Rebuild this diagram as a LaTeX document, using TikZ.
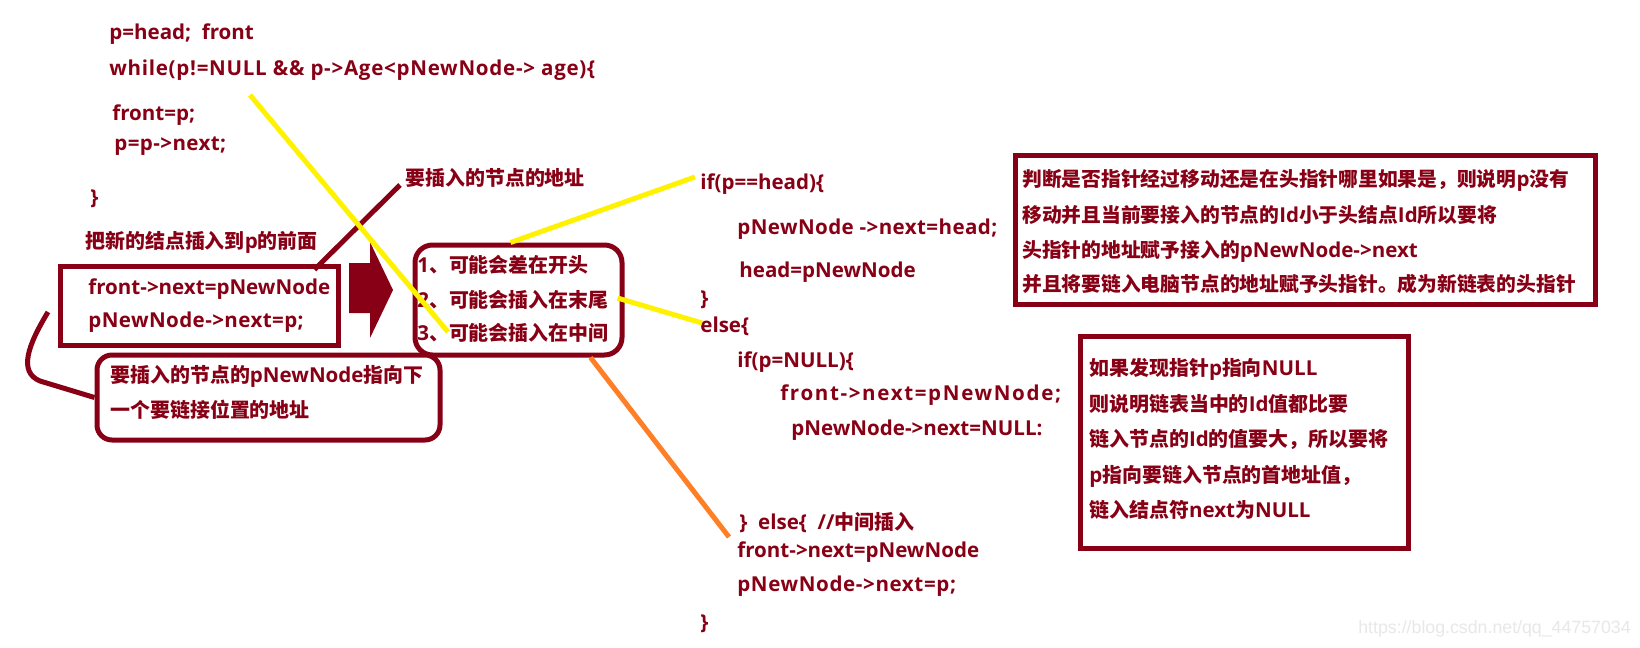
\documentclass[tikz,border=0pt]{standalone}
\usepackage{fontspec}
\setmainfont{Open Sans}
\newfontfamily\cjk{Noto Sans CJK SC Bold}
\newfontfamily\wmfont{Liberation Sans}
\newcommand\zhsize{11.35}
\newcommand\zh[1]{{\cjk\fontsize{\zhsize}{14}\selectfont #1}}
\newcommand\codefont{\fontsize{11.7}{14}\selectfont\bfseries}
\definecolor{pnred}{RGB}{136,0,21}
\definecolor{pnyellow}{RGB}{255,242,0}
\definecolor{pnorange}{RGB}{255,127,39}
\definecolor{pngray}{RGB}{232,232,232}
\usetikzlibrary{calc,fit}

\begin{document}
\begin{tikzpicture}[x=0.02cm,y=-0.02cm,
  codeln/.style={anchor=west,inner sep=0pt,text height=8.2pt,text depth=0pt,
    text=pnred,font=\codefont},
  spaced/.style={font={\codefont\addfontfeature{LetterSpace=#1}}},
  framebox/.style={draw=pnred,line width=0.1cm,inner sep=0pt},
  rframebox/.style={framebox,rounded corners=0.35cm},
  link/.style={line width=0.1cm}
]
  \useasboundingbox (0,0) rectangle (1640,647);
  \fill[white] (0,0) rectangle (1640,647);

  % search loop
  \node[codeln] (hd) at (109,32) {p=head;\ \ front};
  \node[codeln,spaced=3.5] (wl) at (109,68) {while(p!=NULL \&\& p->Age<pNewNode-> age)\{};
  \node[codeln] (fp) at (112,113) {front=p;};
  \node[codeln,spaced=2] (pn) at (114,143) {p=p->next;};
  \node[codeln] (wlend) at (90,197) {\}};

  % insert in front of p
  \node[codeln] (addr) at (405,178) {\zh{要插入的节点的地址}};
  \node[codeln] (before) at (85,241) {\zh{把新的结点插入到}p\zh{的前面}};
  \node[framebox,fit={(60,266) (338,345)}] (boxA) {};
  \node[codeln] (a1) at (88,287) {front->next=pNewNode};
  \node[codeln,spaced=2] (a2) at (88,320) {pNewNode->next=p;};

  % big arrow
  \fill[pnred] (349,263) -- (370,263) -- (370,242) -- (393,290) -- (370,338)
    -- (370,313) -- (349,313) -- cycle;

  % three cases
  \node[rframebox,fit={(415,245) (622,355)}] (boxB) {};
  \foreach \y/\txt [count=\i] in {265/{1\zh{、可能会差在开头}},
      300/{2\zh{、可能会插入在末尾}},333/{3\zh{、可能会插入在中间}}}
    \node[codeln] (b\i) at (417,\y) {\txt};

  \node[rframebox,rounded corners=0.3cm,fit={(97,355) (440,440)}] (boxC) {};
  \node[codeln] (c1) at (110,375) {\zh{要插入的节点的}pNewNode\zh{指向下}};
  \node[codeln] (c2) at (110,410) {\zh{一个要链接位置的地址}};

  % insert code
  \node[codeln] (ifh) at (700,182) {if(p==head)\{};
  \node[codeln,spaced=2] (r1) at (737,227) {pNewNode ->next=head;};
  \node[codeln] (r2) at (739,270) {head=pNewNode};
  \node[codeln] (r3) at (700,298) {\}};
  \node[codeln] (els) at (700,325) {else\{};
  \node[codeln] (ifn) at (737,360) {if(p=NULL)\{};
  \node[codeln,spaced=8] (r4) at (780,393) {front->next=pNewNode;};
  \node[codeln] (r5) at (791,428) {pNewNode->next=NULL:};
  \node[codeln] (elsmid) at (739,522) {\}\ \ else\{\ \ //\zh{中间插入}};
  \node[codeln] (r6) at (737,550) {front->next=pNewNode};
  \node[codeln,spaced=3] (r7) at (737,584) {pNewNode->next=p;};
  \node[codeln] (r8) at (700,622) {\}};

  % notes
  \node[framebox,fit={(1015,155) (1595,304)}] (boxD) {};
  \foreach \y/\txt [count=\i] in {
      179/{\zh{判断是否指针经过移动还是在头指针哪里如果是，则说明}p\zh{没有}},
      215/{\zh{移动并且当前要接入的节点的}Id\zh{小于头结点}Id\zh{所以要将}},
      250/{\zh{头指针的地址赋予接入的}pNewNode->next},
      284/{\zh{并且将要链入电脑节点的地址赋予头指针。成为新链表的头指针}}}
    \node[codeln,font={\codefont\renewcommand\zhsize{11.25}}] (d\i) at (1022,\y) {\txt};

  \node[framebox,fit={(1080,336) (1408,548)}] (boxE) {};
  \foreach \y/\txt [count=\i] in {
      368/{\zh{如果发现指针}p\zh{指向}NULL},
      404/{\zh{则说明链表当中的}Id\zh{值都比要}},
      439/{\zh{链入节点的}Id\zh{的值要大，所以要将}},
      475/{p\zh{指向要链入节点的首地址值，}},
      510/{\zh{链入结点符}next\zh{为}NULL}}
    \node[codeln] (e\i) at (1089,\y) {\txt};

  % connectors
  \draw[link,pnred] ($(boxA.north east)+(-26,6)$) -- ($(addr.west)+(-5,7)$);
  \coordinate (brk) at (48,312);
  \draw[link,pnred] (brk) .. controls (28,345) and (18,372) .. (40,381) -- (boxC.west);
  \draw[link,pnyellow] ($(wl.west)+(141,27)$) -- ($(b3.west)+(31,-1)$);
  \draw[link,pnyellow] ($(boxB.north)+(-8,0)$) -- ($(ifh.west)+(-5,-5)$);
  \draw[link,pnyellow] ($(boxB.east)+(-7,-2)$) -- ($(els.west)+(2,-2)$);
  \draw[link,pnorange] ($(boxB.south east)+(-34,0)$) -- ($(elsmid.west)+(-10,15)$);

  \node[anchor=west,inner sep=0pt,text=pngray,font=\wmfont\fontsize{10.1}{12}\selectfont]
    (wm) at (1358,629) {https://blog.csdn.net/qq\_44757034};
\end{tikzpicture}
\end{document}
